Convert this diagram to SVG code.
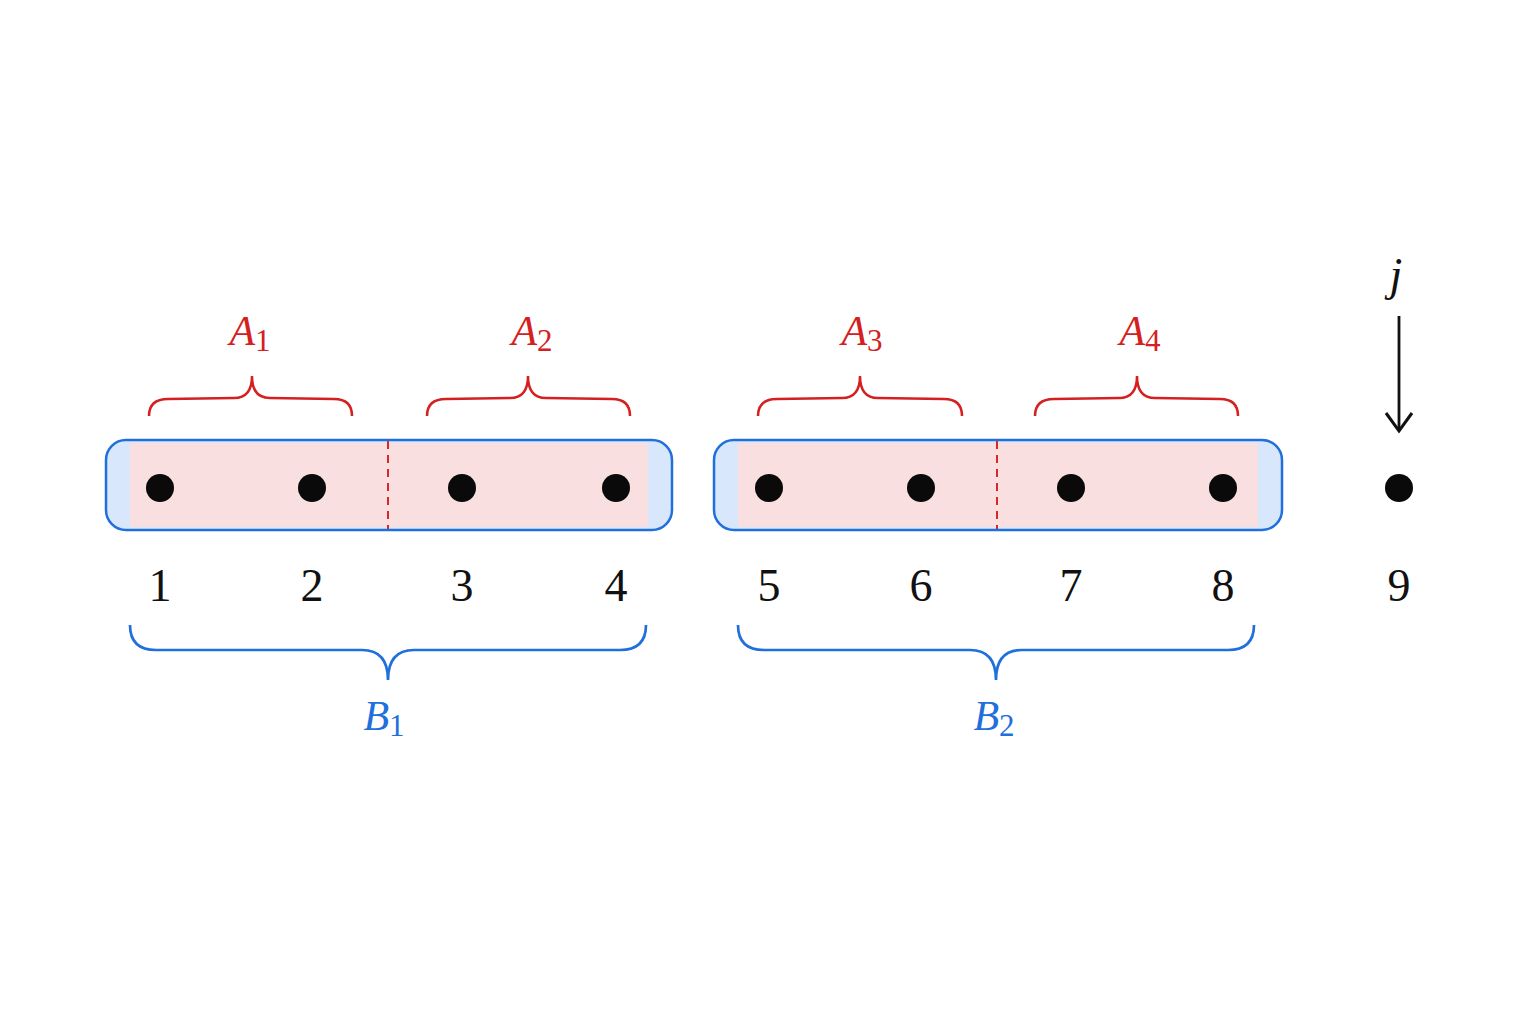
<svg xmlns="http://www.w3.org/2000/svg" width="1536" height="1024" viewBox="0 0 1536 1024">
<defs>
<style>
.box{fill:#d8e7fb;stroke:#1f6fdc;stroke-width:2.5}
.pink{fill:#f9dfdf}
.div{stroke:#d42a2a;stroke-width:2;stroke-dasharray:8,6;fill:none}
.dot{fill:#0a0a0a}
.num{font-family:"Liberation Serif","DejaVu Serif",serif;font-size:46px;fill:#111;text-anchor:middle}
.rb{fill:none;stroke:#d42020;stroke-width:2.5}
.bb{fill:none;stroke:#1f6fdc;stroke-width:2.7}
.la{font-family:"Liberation Serif","DejaVu Serif",serif;font-style:italic;font-size:42px;fill:#d42020;text-anchor:middle}
.lb{font-family:"Liberation Serif","DejaVu Serif",serif;font-style:italic;font-size:42px;fill:#1f6fdc;text-anchor:middle}
.sub{font-style:normal;font-size:31px}
</style>
<marker id="arr" viewBox="0 0 24 30" refX="21" refY="15" markerWidth="24" markerHeight="30" markerUnits="userSpaceOnUse" orient="auto">
<path d="M3,2 L21,15 L3,28" fill="none" stroke="#111" stroke-width="3"/>
</marker>
</defs>
<rect width="1536" height="1024" fill="#ffffff"/>

<g id="block1">
<rect class="box" x="106" y="440" width="566" height="90" rx="20"/>
<rect class="pink" x="130" y="443" width="518" height="84"/>
<line class="div" x1="388" y1="441" x2="388" y2="529"/>
</g>
<g id="block2">
<rect class="box" x="714" y="440" width="568" height="90" rx="20"/>
<rect class="pink" x="738" y="443" width="520" height="84"/>
<line class="div" x1="997" y1="441" x2="997" y2="529"/>
</g>

<g id="n1"><circle class="dot" cx="160" cy="488" r="14"/><text class="num" x="160" y="601">1</text></g>
<g id="n2"><circle class="dot" cx="312" cy="488" r="14"/><text class="num" x="312" y="601">2</text></g>
<g id="n3"><circle class="dot" cx="462" cy="488" r="14"/><text class="num" x="462" y="601">3</text></g>
<g id="n4"><circle class="dot" cx="616" cy="488" r="14"/><text class="num" x="616" y="601">4</text></g>
<g id="n5"><circle class="dot" cx="769" cy="488" r="14"/><text class="num" x="769" y="601">5</text></g>
<g id="n6"><circle class="dot" cx="921" cy="488" r="14"/><text class="num" x="921" y="601">6</text></g>
<g id="n7"><circle class="dot" cx="1071" cy="488" r="14"/><text class="num" x="1071" y="601">7</text></g>
<g id="n8"><circle class="dot" cx="1223" cy="488" r="14"/><text class="num" x="1223" y="601">8</text></g>
<g id="n9"><circle class="dot" cx="1399" cy="488" r="14"/><text class="num" x="1399" y="601">9</text></g>

<g id="A1"><path class="rb" d="M149,416 Q149,399 168,399 L234,398 Q252,398 252,376 Q252,398 270,398 L334,399 Q352,399 352,416"/><text class="la" x="250" y="345">A<tspan class="sub" dy="6">1</tspan></text></g>
<g id="A2"><path class="rb" d="M427,416 Q427,399 446,399 L510,398 Q528,398 528,376 Q528,398 546,398 L612,399 Q630,399 630,416"/><text class="la" x="532" y="345">A<tspan class="sub" dy="6">2</tspan></text></g>
<g id="A3"><path class="rb" d="M758,416 Q758,399 777,399 L842,398 Q860,398 860,376 Q860,398 878,398 L944,399 Q962,399 962,416"/><text class="la" x="862" y="345">A<tspan class="sub" dy="6">3</tspan></text></g>
<g id="A4"><path class="rb" d="M1035,416 Q1035,399 1054,399 L1119,398 Q1137,398 1137,376 Q1137,398 1155,398 L1220,399 Q1238,399 1238,416"/><text class="la" x="1140" y="345">A<tspan class="sub" dy="6">4</tspan></text></g>

<g id="B1"><path class="bb" d="M130,625 Q130,650 156,650 L362,650 Q388,650 388,680 Q388,650 414,650 L620,650 Q646,650 646,625"/><text class="lb" x="384" y="730">B<tspan class="sub" dy="6">1</tspan></text></g>
<g id="B2"><path class="bb" d="M738,625 Q738,650 764,650 L970,650 Q996,650 996,680 Q996,650 1022,650 L1228,650 Q1254,650 1254,625"/><text class="lb" x="994" y="730">B<tspan class="sub" dy="6">2</tspan></text></g>

<g id="j"><text x="1396" y="290" style="font-family:'Liberation Serif','DejaVu Serif',serif;font-style:italic;font-size:46px;fill:#111;text-anchor:middle">j</text></g>

<g id="connectors">
<line x1="1399" y1="316" x2="1399" y2="431" stroke="#111" stroke-width="2.8" marker-end="url(#arr)"/>
</g>
</svg>
